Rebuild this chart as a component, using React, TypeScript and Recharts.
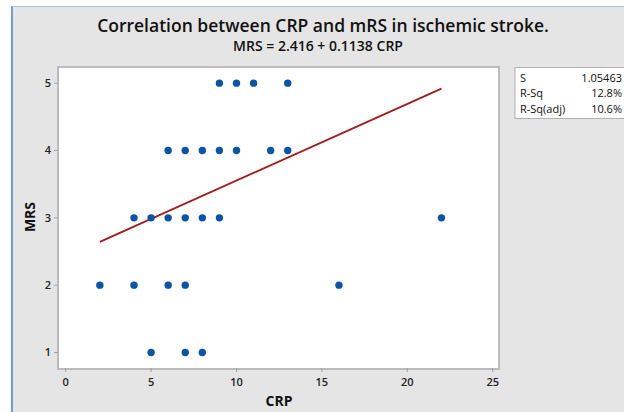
import React from 'react';
import { ScatterChart, Scatter, XAxis, YAxis } from 'recharts';

const crpValues = [9, 10, 11, 13, 6, 7, 8, 9, 10, 12, 13, 4, 5, 6, 7, 8, 9, 22, 2, 4, 6, 7, 16, 5, 7, 8];
const mrsValues = [5, 5, 5, 5, 4, 4, 4, 4, 4, 4, 4, 3, 3, 3, 3, 3, 3, 3, 2, 2, 2, 2, 2, 1, 1, 1];
const intercept = 2.416;
const slope = 0.1138;
const fitCrp = [2, 22];
const xTicks = [0, 5, 10, 15, 20, 25];
const yTicks = [1, 2, 3, 4, 5];
const statLabels = ['S', 'R-Sq', 'R-Sq(adj)'];
const statValues = ['1.05463', '12.8%', '10.6%'];

const points = crpValues.map((c, i) => ({ crp: c, mrs: mrsValues[i] }));
const fitData = fitCrp.map((c) => ({ crp: c, mrs: intercept + slope * c }));

const FONT = "'Open Sans', 'DejaVu Sans', sans-serif";

const Dot = (props: any) => <circle cx={props.cx} cy={props.cy} r={3.7} fill="#0b55a3" />;
const NoDot = () => <g />;

export default function App() {
  const tickStyle = { fontSize: 11, fill: '#222', fontFamily: FONT, fontWeight: 600 };
  return (
    <div style={{ position: 'absolute', left: 0, top: 0, width: 624, height: 412, background: '#fff', overflow: 'hidden' }}>
      <div
        style={{
          position: 'absolute', left: 11, top: 6, width: 613, height: 406, background: '#e5e5e5',
          borderLeft: '2px solid #6a9fd6', borderTop: '1px solid #a8c3df', boxSizing: 'border-box',
        }}
      />
      <div
        style={{
          position: 'absolute', left: 57, top: 66, width: 443, height: 304, background: '#fff',
          border: '2px solid #bcbcbc', boxSizing: 'border-box',
        }}
      />
      <div style={{ position: 'absolute', left: 0, top: 0 }}>
        <ScatterChart width={624} height={412} margin={{ top: 67, right: 125, bottom: 14, left: 38 }}>
          <XAxis
            type="number" dataKey="crp" domain={[-0.45, 25.37]} ticks={xTicks} allowDataOverflow
            axisLine={false} tickLine={{ stroke: '#a0a0a0' }} tickSize={4} tickMargin={6} height={30}
            tick={tickStyle} interval={0}
          />
          <YAxis
            type="number" dataKey="mrs" domain={[0.77, 5.24]} ticks={yTicks} allowDataOverflow
            axisLine={false} tickLine={{ stroke: '#a0a0a0' }} tickSize={4} tickMargin={3} width={20}
            tick={tickStyle} interval={0}
          />
          <Scatter data={fitData} line={{ stroke: '#a21c1c', strokeWidth: 1.8 }} shape={NoDot} isAnimationActive={false} />
          <Scatter data={points} shape={Dot} isAnimationActive={false} />
        </ScatterChart>
      </div>
      <svg width={624} height={412} style={{ position: 'absolute', left: 0, top: 0, pointerEvents: 'none' }}>
        <text x={323} y={32} textAnchor="middle" fontFamily={FONT} fontSize={17.5} fontWeight={600} fill="#111">
          Correlation between CRP and mRS in ischemic stroke.
        </text>
        <text x={318} y={51} textAnchor="middle" fontFamily={FONT} fontSize={14} fontWeight={600} fill="#111">
          MRS = 2.416 + 0.1138 CRP
        </text>
        <text x={279} y={406} textAnchor="middle" fontFamily={FONT} fontSize={14} fontWeight={700} fill="#111">
          CRP
        </text>
        <text x={0} y={0} transform="translate(35,217) rotate(-90)" textAnchor="middle" fontFamily={FONT} fontSize={14} fontWeight={700} fill="#111">
          MRS
        </text>
        <rect x={515} y={67.5} width={115} height={51} fill="#fff" stroke="#b0b0b0" strokeWidth={1} />
        {statLabels.map((l, i) => (
          <text key={l} x={520} y={81.5 + i * 15.5} fontFamily={FONT} fontSize={11} fontWeight={500} fill="#111">{l}</text>
        ))}
        {statValues.map((v, i) => (
          <text key={v} x={622} y={81.5 + i * 15.5} textAnchor="end" fontFamily={FONT} fontSize={11} fontWeight={500} fill="#111">{v}</text>
        ))}
      </svg>
    </div>
  );
}
